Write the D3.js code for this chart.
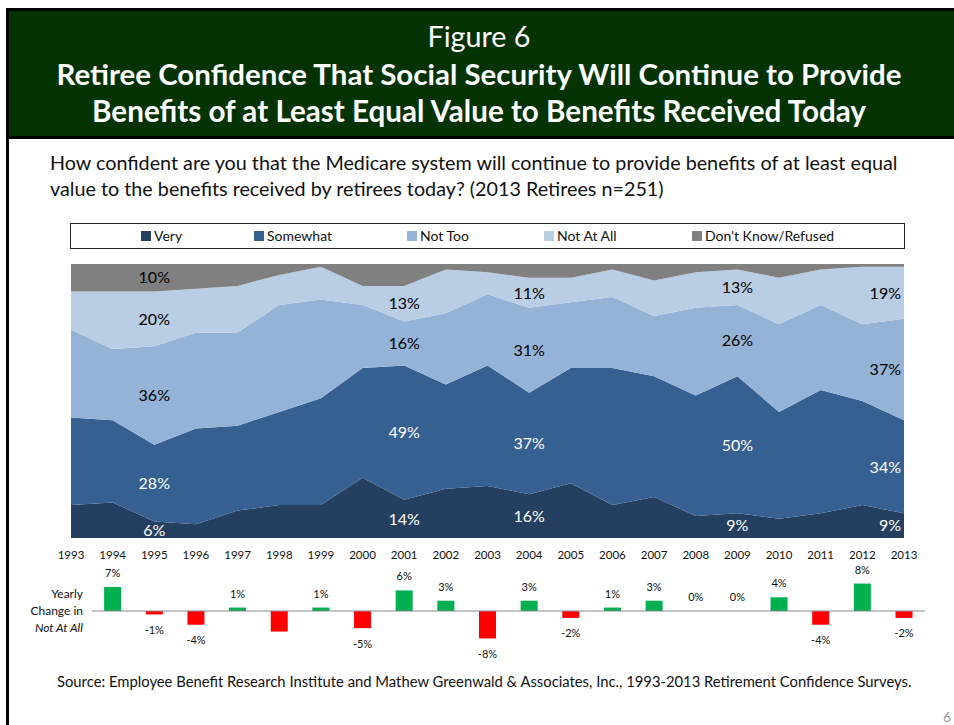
<!DOCTYPE html>
<html>
<head>
<meta charset="utf-8">
<script src="https://cdn.jsdelivr.net/npm/d3@7"></script>
<style>
  body { margin: 0; background: #fff; }
  svg { display: block; font-family: Lato, "Open Sans", sans-serif; }
</style>
</head>
<body>
<svg id="chart" width="954" height="725"></svg>
<script>
const years = d3.range(1993, 2014);

// share of retirees by answer, percent
const very      = [12, 13, 6, 5, 10, 12, 12, 22, 14, 18, 19, 16, 20, 12, 15, 8, 9, 7, 9, 12, 9];
const somewhat  = [32, 30, 28, 35, 31, 34, 39, 40, 49, 38, 44, 37, 42, 50, 44, 44, 50, 39, 45, 38, 34];
const notToo    = [32, 26, 36, 35, 34, 39, 36, 23, 16, 26, 26, 31, 24, 26, 22, 32, 26, 32, 31, 28, 37];
const notAtAll  = [14, 21, 20, 16, 17, 11, 12, 7, 13, 16, 8, 11, 9, 10, 13, 13, 13, 17, 13, 21, 19];
const dontKnow  = [10, 10, 10, 9, 8, 4, 1, 8, 8, 2, 3, 5, 5, 2, 6, 3, 2, 5, 2, 1, 1];

// yearly change in "Not At All", 1994-2013
const changeYears = d3.range(1994, 2014);
const change = [7, -1, -4, 1, -6, 1, -5, 6, 3, -8, 3, -2, 1, 3, 0, 0, 4, -4, 8, -2];
const changeNoLabel = [1998];

// years whose values are printed on the areas
const labelYears = [1995, 2001, 2004, 2009, 2013];
const dkLabelYears = [1995];

const seriesNames = ["Very", "Somewhat", "Not Too", "Not At All", "Don't Know/Refused"];
const seriesColors = ["#253f61", "#366092", "#95b3d7", "#b9cde5", "#808080"];
const labelColors = ["#fff", "#fff", "#000", "#000", "#000"];

const svg = d3.select("#chart");

// make a text element exactly as wide as the original
function fitWidth(sel, w) {
  sel.each(function () {
    const len = this.getComputedTextLength();
    const fs = parseFloat(d3.select(this).attr("font-size"));
    d3.select(this).attr("font-size", (fs * w / len).toFixed(2));
  });
}

// page frame and header
svg.append("rect").attr("x", 6).attr("y", 8).attr("width", 960).attr("height", 730).attr("fill", "#000");
svg.append("rect").attr("x", 9).attr("y", 139).attr("width", 950).attr("height", 600).attr("fill", "#fff");
svg.append("rect").attr("x", 9).attr("y", 11).attr("width", 950).attr("height", 125).attr("fill", "#033303");

svg.append("text").attr("x", 479).attr("y", 47).attr("text-anchor", "middle")
  .attr("fill", "#fff").attr("font-size", 26).text("Figure 6")
  .call(fitWidth, 103);
svg.append("text").attr("x", 479).attr("y", 85).attr("text-anchor", "middle")
  .attr("fill", "#fff").attr("font-size", 26).attr("font-weight", "bold")
  .text("Retiree Confidence That Social Security Will Continue to Provide")
  .call(fitWidth, 845);
svg.append("text").attr("x", 479).attr("y", 122).attr("text-anchor", "middle")
  .attr("fill", "#fff").attr("font-size", 26).attr("font-weight", "bold")
  .text("Benefits of at Least Equal Value to Benefits Received Today")
  .call(fitWidth, 774);

const sub1 = svg.append("text").attr("x", 50).attr("y", 170).attr("font-size", 18).attr("fill", "#111")
  .text("How confident are you that the Medicare system will continue to provide benefits of at least equal")
  .call(fitWidth, 848);
svg.append("text").attr("x", 50).attr("y", 196).attr("fill", "#111")
  .attr("font-size", sub1.attr("font-size"))
  .text("value to the benefits received by retirees today? (2013 Retirees n=251)");

// legend
const legend = svg.append("g");
legend.append("rect").attr("x", 70.5).attr("y", 223.5).attr("width", 834).attr("height", 25)
  .attr("fill", "#fff").attr("stroke", "#222");
const legendX = [141, 254, 407, 544, 692];
seriesNames.forEach((name, i) => {
  legend.append("rect").attr("x", legendX[i]).attr("y", 231).attr("width", 10).attr("height", 10)
    .attr("fill", seriesColors[i]);
  legend.append("text").attr("x", legendX[i] + 13).attr("y", 241).attr("font-size", 14)
    .attr("fill", "#111").text(name);
});

// stacked area chart
const x = d3.scalePoint().domain(years).range([71, 904]);
const y = d3.scaleLinear().domain([0, 100]).range([538, 264]);

const rows = years.map((yr, i) => ({
  year: yr, s0: very[i], s1: somewhat[i], s2: notToo[i], s3: notAtAll[i], s4: dontKnow[i]
}));
const keys = ["s0", "s1", "s2", "s3", "s4"];
const stacked = d3.stack().keys(keys)(rows);

const area = d3.area()
  .x(d => x(d.data.year))
  .y0(d => y(d[0]))
  .y1(d => y(d[1]));

svg.append("g").selectAll("path").data(stacked).join("path")
  .attr("d", area)
  .attr("fill", (d, i) => seriesColors[i]);

const labels = svg.append("g").attr("font-size", 16);
stacked.forEach((layer, i) => {
  const yrs = i === 4 ? dkLabelYears : labelYears;
  layer.filter(d => yrs.includes(d.data.year)).forEach(d => {
    const last = d.data.year === 2013;
    labels.append("text")
      .attr("x", last ? x(d.data.year) - 3 : x(d.data.year))
      .attr("y", y((d[0] + d[1]) / 2))
      .attr("dy", "0.36em")
      .attr("text-anchor", last ? "end" : "middle")
      .attr("fill", labelColors[i])
      .text(Math.round(d[1] - d[0]) + "%");
  });
});

// year labels
svg.append("g").selectAll("text").data(years).join("text")
  .attr("x", d => x(d)).attr("y", 559)
  .attr("text-anchor", "middle").attr("font-size", 11.5).attr("fill", "#111")
  .text(d => d);

// yearly change bars
const step = x.step();
const yb = d3.scaleLinear().domain([-10, 10]).range([645.3, 576.7]);
const barW = 17;
const changeRows = changeYears.map((yr, i) => ({ year: yr, value: change[i] }));

svg.append("g").selectAll("rect").data(changeRows).join("rect")
  .attr("x", d => x(d.year) - barW / 2)
  .attr("y", d => yb(Math.max(d.value, 0)))
  .attr("width", barW)
  .attr("height", d => Math.abs(yb(d.value) - yb(0)))
  .attr("fill", d => d.value >= 0 ? "#00b050" : "#ff0000");

svg.append("line")
  .attr("x1", x(changeYears[0]) - step / 2).attr("x2", x(2013) + step / 2)
  .attr("y1", yb(0)).attr("y2", yb(0))
  .attr("stroke", "#888").attr("stroke-width", 1);

svg.append("g").selectAll("text")
  .data(changeRows.filter(d => !changeNoLabel.includes(d.year)))
  .join("text")
  .attr("x", d => x(d.year))
  .attr("y", d => d.value >= 0 ? yb(d.value) - 14 : yb(d.value) + 15.5)
  .attr("dy", "0.36em")
  .attr("text-anchor", "middle").attr("font-size", 11).attr("fill", "#111")
  .text(d => d.value + "%");

const side = svg.append("g").attr("font-size", 12).attr("fill", "#111").attr("text-anchor", "end");
side.append("text").attr("x", 83).attr("y", 598).text("Yearly");
side.append("text").attr("x", 83).attr("y", 615).text("Change in");
side.append("text").attr("x", 83).attr("y", 632).attr("font-style", "italic").text("Not At All");

// source and page number
svg.append("text").attr("x", 57).attr("y", 687).attr("font-size", 13).attr("fill", "#111")
  .text("Source:  Employee Benefit Research Institute and Mathew Greenwald & Associates, Inc., 1993-2013 Retirement Confidence Surveys.")
  .call(fitWidth, 855);
svg.append("text").attr("x", 943).attr("y", 722).attr("font-size", 14).attr("fill", "#999").text("6");
</script>
</body>
</html>
